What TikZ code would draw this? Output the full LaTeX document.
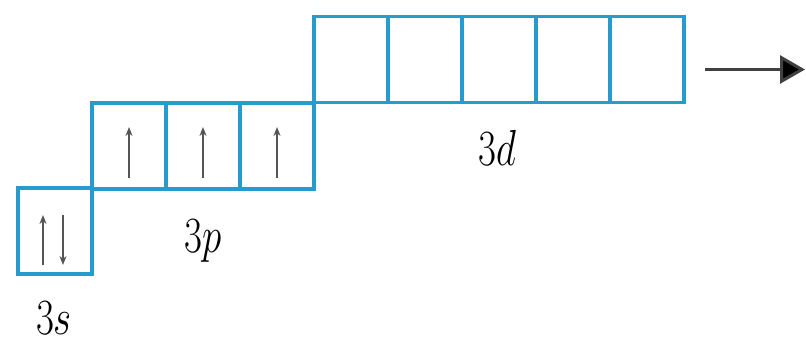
\RequirePackage{fix-cm}
\documentclass[tikz,border=0pt]{standalone}
\usepackage{graphicx}
\usetikzlibrary{arrows.meta}
\definecolor{orb}{RGB}{38,155,205}
\definecolor{spin}{RGB}{85,85,85}
\begin{document}
\begin{tikzpicture}[x=1pt,y=-1pt,
  orbbox/.style={draw=orb,line width=3.2pt,minimum width=74pt,minimum height=86pt,inner sep=0pt,outer sep=0pt},
  spinarrow/.style={draw=spin,line width=1.5pt,-{Stealth[length=9pt,width=7pt]}},
  lab/.style={anchor=base,inner sep=0pt,font=\fontsize{39}{39}\selectfont}]
\useasboundingbox (0,0) rectangle (806,345);
% 3s
\node[orbbox] (s1) at (55,231) {};
% 3p
\node[orbbox] (p1) at (129,146) {};
\node[orbbox] (p2) at (203,146) {};
\node[orbbox] (p3) at (277,146) {};
% 3d
\node[orbbox] (d1) at (351,59.5) {};
\node[orbbox] (d2) at (425,59.5) {};
\node[orbbox] (d3) at (499,59.5) {};
\node[orbbox] (d4) at (573,59.5) {};
\node[orbbox] (d5) at (647,59.5) {};
% spins
\coordinate (s1ua) at ([xshift=-12pt,yshift=-34pt]s1.center);
\coordinate (s1ub) at ([xshift=-12pt,yshift=16pt]s1.center);
\draw[spinarrow] (s1ua) -- (s1ub);
\coordinate (s1da) at ([xshift=8pt,yshift=16pt]s1.center);
\coordinate (s1db) at ([xshift=8pt,yshift=-34pt]s1.center);
\draw[spinarrow] (s1da) -- (s1db);
\foreach \n in {p1,p2,p3}{
  \coordinate (\n a) at ([yshift=-32pt]\n.center);
  \coordinate (\n b) at ([yshift=19pt]\n.center);
  \draw[spinarrow] (\n a) -- (\n b);
}
% labels
\node[lab] (l3s) at (54,334) {\scalebox{1}[1.3]{$3s$}};
\node[lab] (l3p) at (203,252) {\scalebox{1}[1.3]{$3p$}};
\node[lab] (l3d) at (497,165) {\scalebox{1}[1.3]{$3d$}};
% big arrow
\coordinate (ar0) at ([xshift=21pt,yshift=-10pt]d5.east);
\coordinate (ar1) at (805,69.5);
\draw[line width=3pt,draw=black!75,-{Triangle[length=25pt,width=28pt,fill=black]}] (ar0) -- (ar1);
\end{tikzpicture}
\end{document}
